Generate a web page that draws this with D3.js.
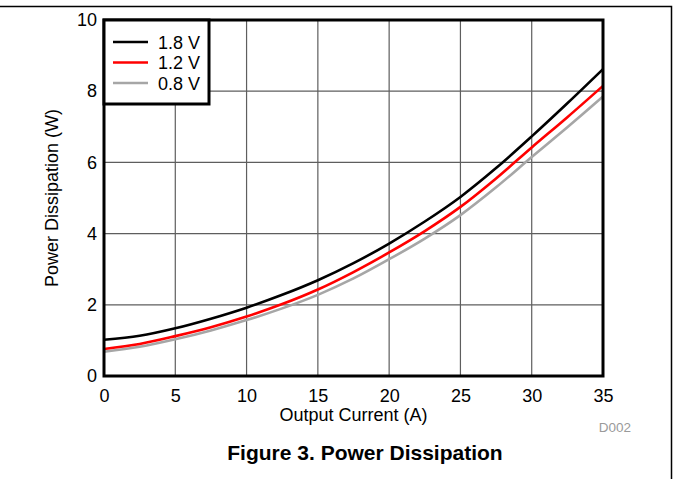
<!DOCTYPE html>
<html>
<head>
<meta charset="utf-8">
<script src="https://cdn.jsdelivr.net/npm/d3@7"></script>
<style>
  body { margin: 0; background: #fff; }
  svg text { font-family: "Liberation Sans", Arial, sans-serif; }
</style>
</head>
<body>
<div id="chart"></div>
<script>
// data (output current in A, power in W)
var current = [0, 2.5, 5, 7.5, 10, 12.5, 15, 17.5, 20, 22.5, 25, 27.5, 30, 32.5, 35];
var p18 = [1.02, 1.13, 1.34, 1.61, 1.92, 2.28, 2.69, 3.17, 3.72, 4.34, 5.03, 5.84, 6.73, 7.66, 8.62];
var p12 = [0.76, 0.90, 1.12, 1.37, 1.67, 2.02, 2.43, 2.92, 3.47, 4.07, 4.75, 5.55, 6.42, 7.27, 8.15];
var p08 = [0.68, 0.82, 1.03, 1.28, 1.57, 1.90, 2.28, 2.74, 3.28, 3.86, 4.52, 5.30, 6.15, 6.99, 7.85];
var seriesNames = ["1.8 V", "1.2 V", "0.8 V"];
var seriesColors = ["#000000", "#ff0000", "#a6a6a6"];
var xTicks = [0, 5, 10, 15, 20, 25, 30, 35];
var yTicks = [0, 2, 4, 6, 8, 10];

var W = 673, H = 479;
var margin = {top: 20, right: 70, bottom: 103, left: 104},
    width = 603 - margin.left,
    height = 376 - margin.top;

var svg = d3.select("#chart").append("svg")
    .attr("width", W).attr("height", H);

// page frame
svg.append("path")
    .attr("d", "M0,6.5H671.5V" + H)
    .attr("fill", "none").attr("stroke", "#000").attr("stroke-width", 1.5);

var g = svg.append("g")
    .attr("transform", "translate(" + margin.left + "," + margin.top + ")");

var x = d3.scaleLinear().domain([0, 35]).range([0, width]);
var y = d3.scaleLinear().domain([0, 10]).range([height, 0]);

// grid
g.append("g").selectAll("line").data(xTicks).enter().append("line")
    .attr("x1", function(d) { return x(d); }).attr("x2", function(d) { return x(d); })
    .attr("y1", 0).attr("y2", height)
    .attr("stroke", "#5e5e5e").attr("stroke-width", 1.2);
g.append("g").selectAll("line").data(yTicks).enter().append("line")
    .attr("x1", 0).attr("x2", width)
    .attr("y1", function(d) { return y(d); }).attr("y2", function(d) { return y(d); })
    .attr("stroke", "#5e5e5e").attr("stroke-width", 1.2);

// axes (labels only, frame drawn below)
var xAxis = d3.axisBottom(x).tickValues(xTicks).tickSize(0).tickPadding(13);
var yAxis = d3.axisLeft(y).tickValues(yTicks).tickSize(0).tickPadding(7);

g.append("g").attr("transform", "translate(0," + height + ")").call(xAxis)
  .call(function(s) { s.select(".domain").remove(); })
  .selectAll("text").attr("font-size", 18).attr("fill", "#000")
  .attr("font-family", "Liberation Sans, Arial, sans-serif");

g.append("g").call(yAxis)
  .call(function(s) { s.select(".domain").remove(); })
  .selectAll("text").attr("font-size", 18).attr("fill", "#000")
  .attr("font-family", "Liberation Sans, Arial, sans-serif");

// lines
var series = [p18, p12, p08];
var line = d3.line()
    .x(function(d, i) { return x(current[i]); })
    .y(function(d) { return y(d); })
    .curve(d3.curveCatmullRom);

// draw back to front so black is on top
[2, 1, 0].forEach(function(k) {
  g.append("path")
    .datum(series[k])
    .attr("fill", "none")
    .attr("stroke", seriesColors[k])
    .attr("stroke-width", 2.6)
    .attr("d", line);
});

// plot frame
g.append("rect")
    .attr("x", 0).attr("y", 0).attr("width", width).attr("height", height)
    .attr("fill", "none").attr("stroke", "#000").attr("stroke-width", 3);

// legend
var lg = g.append("g");
lg.append("rect")
    .attr("x", 0).attr("y", 0).attr("width", 105).attr("height", 84)
    .attr("fill", "#fff").attr("stroke", "#000").attr("stroke-width", 3);
seriesNames.forEach(function(name, i) {
  var yy = 22 + i * 20.5;
  lg.append("line")
    .attr("x1", 9).attr("x2", 44).attr("y1", yy).attr("y2", yy)
    .attr("stroke", seriesColors[i]).attr("stroke-width", 2.6);
  lg.append("text")
    .attr("x", 54).attr("y", yy + 6.5)
    .attr("font-size", 18).text(name);
});

// axis titles
svg.append("text")
    .attr("x", (margin.left + 603) / 2).attr("y", 421)
    .attr("text-anchor", "middle").attr("font-size", 18)
    .text("Output Current (A)");

svg.append("text")
    .attr("transform", "translate(58," + (margin.top + height / 2) + ") rotate(-90)")
    .attr("text-anchor", "middle").attr("font-size", 18)
    .text("Power Dissipation (W)");

svg.append("text")
    .attr("x", 615).attr("y", 432)
    .attr("text-anchor", "middle").attr("font-size", 13.5).attr("fill", "#9a9a9a")
    .text("D002");

svg.append("text")
    .attr("x", 365).attr("y", 460)
    .attr("text-anchor", "middle").attr("font-size", 21).attr("font-weight", "bold")
    .text("Figure 3. Power Dissipation");
</script>
</body>
</html>
